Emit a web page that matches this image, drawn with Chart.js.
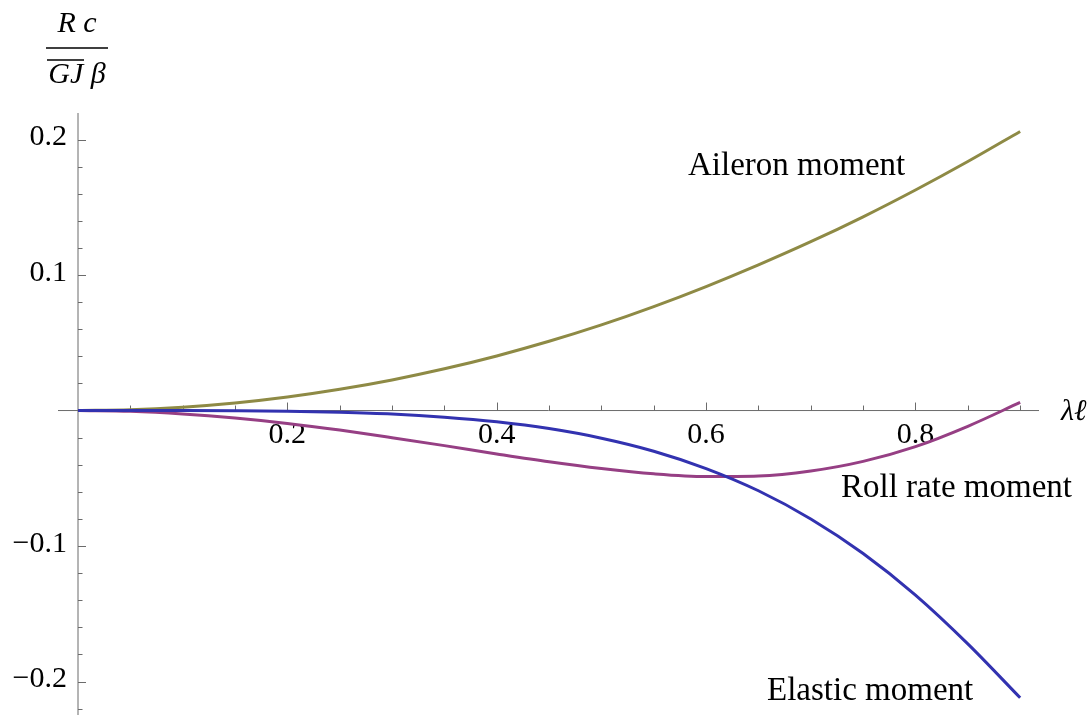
<!DOCTYPE html>
<html>
<head>
<meta charset="utf-8">
<script src="https://cdn.jsdelivr.net/npm/chart.js@4"></script>
<style>
html,body{margin:0;padding:0;background:#fff;}
canvas{display:block;}
</style>
</head>
<body>
<canvas id="c" width="1091" height="715"></canvas>
<script>
// ---- data ----
const lambdaL = [0,0.05,0.1,0.15,0.2,0.25,0.3,0.35,0.4,0.45,0.5,0.55,0.6,0.65,0.7,0.75,0.8,0.85,0.9];
const aileronMoment = [0,0.0006,0.0025,0.0056,0.0100,0.0157,0.0226,0.0308,0.0403,0.0511,0.0632,0.0767,0.0915,0.1075,0.1246,0.1430,0.1628,0.1838,0.2060];
const elasticMoment = [0,0,-0.00003,-0.00016,-0.0005,-0.0013,-0.0026,-0.0049,-0.0083,-0.0133,-0.0204,-0.0300,-0.0428,-0.0592,-0.0800,-0.1055,-0.1362,-0.1722,-0.2120];
const rollRateMoment = [0,-0.0006,-0.0025,-0.0055,-0.0095,-0.0144,-0.0200,-0.0259,-0.0320,-0.0378,-0.0428,-0.0467,-0.0487,-0.0483,-0.0446,-0.0375,-0.0266,-0.0116,0.0060];
const xTickLabels = ["0.2","0.4","0.6","0.8"];
const xTickValues = [0.2,0.4,0.6,0.8];
const yTickLabels = ["0.2","0.1","\u22120.1","\u22120.2"];
const yTickValues = [0.2,0.1,-0.1,-0.2];
const seriesNames = ["Aileron moment","Roll rate moment","Elastic moment"];

const pts = (ys) => lambdaL.map((x,i)=>({x:x,y:ys[i]}));

const axesPlugin = {
  id:'mmaAxes',
  beforeDatasetsDraw(chart){
    const ctx = chart.ctx, xs = chart.scales.x, ys = chart.scales.y;
    const x0 = xs.getPixelForValue(0), y0 = ys.getPixelForValue(0);
    const a = chart.chartArea;
    ctx.save();
    ctx.strokeStyle = '#6b6b6b';
    ctx.lineWidth = 1;
    ctx.beginPath();
    ctx.moveTo(x0 - 20, y0); ctx.lineTo(a.right, y0);
    ctx.moveTo(x0, a.top); ctx.lineTo(x0, a.bottom);
    ctx.stroke();
    ctx.beginPath();
    for (let k=1;k<=18;k++){
      const v = k*0.05;
      const px = Math.round(xs.getPixelForValue(v))+0.5;
      const major = (k%4===0);
      ctx.moveTo(px, y0); ctx.lineTo(px, y0 - (major?8:5));
    }
    for (let k=-11;k<=10;k++){
      if (k===0) continue;
      const v = k*0.02;
      const py = Math.round(ys.getPixelForValue(v))+0.5;
      const major = (k%5===0);
      ctx.moveTo(x0, py); ctx.lineTo(x0 + (major?8:4.5), py);
    }
    ctx.stroke();
    ctx.fillStyle = '#000';
    ctx.font = '30px "Liberation Serif", "DejaVu Serif", serif';
    ctx.textAlign = 'center'; ctx.textBaseline = 'alphabetic';
    xTickValues.forEach((v,i)=>{
      ctx.fillText(xTickLabels[i], xs.getPixelForValue(v), y0 + 32);
    });
    ctx.textAlign = 'right'; ctx.textBaseline = 'middle';
    yTickValues.forEach((v,i)=>{
      ctx.fillText(yTickLabels[i], x0 - 11, ys.getPixelForValue(v) - 2);
    });
    ctx.restore();
  },
  afterDraw(chart){
    const ctx = chart.ctx, xs = chart.scales.x, ys = chart.scales.y;
    const y0 = ys.getPixelForValue(0);
    ctx.save();
    ctx.fillStyle = '#000';
    ctx.textBaseline = 'alphabetic';
    ctx.textAlign = 'left';
    ctx.font = '33px "Liberation Serif", "DejaVu Serif", serif';
    ctx.fillText(seriesNames[0], 688, 175);
    ctx.fillText(seriesNames[1], 841, 497);
    ctx.fillText(seriesNames[2], 767, 700);
    ctx.font = 'italic 30px "Liberation Serif", "DejaVu Serif", serif';
    ctx.fillText('\u03BB\u2113', 1061, y0 + 9);
    ctx.font = 'italic 30px "Liberation Serif", "DejaVu Serif", serif';
    ctx.textAlign = 'center';
    ctx.fillText('R c', 77, 32);
    ctx.fillText('GJ \u03B2', 77, 83);
    ctx.strokeStyle = '#000';
    ctx.lineWidth = 1.5;
    ctx.beginPath();
    ctx.moveTo(46, 48); ctx.lineTo(108, 48);
    ctx.moveTo(47, 60); ctx.lineTo(84, 60);
    ctx.stroke();
    ctx.restore();
  }
};

new Chart(document.getElementById('c'), {
  type:'line',
  data:{
    datasets:[
      {label:seriesNames[2], data:pts(elasticMoment), borderColor:'#3232b0', borderWidth:3},
      {label:seriesNames[1], data:pts(rollRateMoment), borderColor:'#963f84', borderWidth:3},
      {label:seriesNames[0], data:pts(aileronMoment), borderColor:'#8e8a45', borderWidth:3}
    ]
  },
  options:{
    responsive:false,
    animation:false,
    layout:{padding:{left:78, right:52, top:113, bottom:0}},
    elements:{point:{radius:0}, line:{cubicInterpolationMode:'monotone', fill:false}},
    plugins:{legend:{display:false}, tooltip:{enabled:false}},
    scales:{
      x:{type:'linear', min:0, max:0.918, display:false},
      y:{type:'linear', min:-0.2247, max:0.2196, display:false}
    }
  },
  plugins:[axesPlugin]
});
</script>
</body>
</html>
